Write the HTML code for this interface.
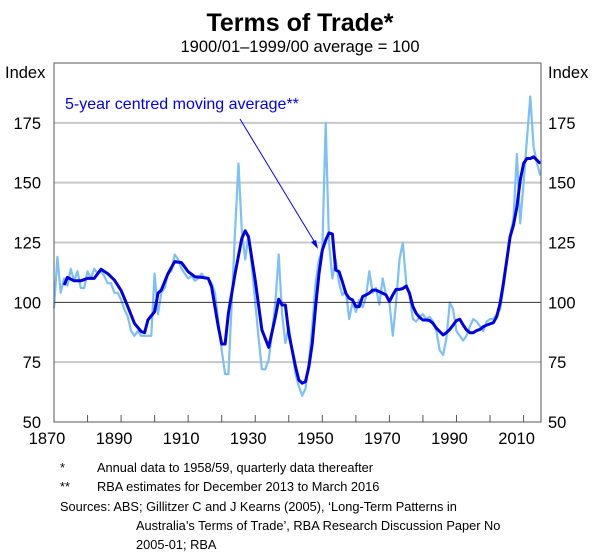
<!DOCTYPE html>
<html><head><meta charset="utf-8"><style>
body{margin:0;background:#fff;font-family:"Liberation Sans",Arial,sans-serif;}
#wrap{position:relative;width:600px;height:558px;overflow:hidden;}
</style></head><body>
<div id="wrap">
<svg id="chart" width="600" height="558" xmlns="http://www.w3.org/2000/svg" font-family="Liberation Sans, Arial, sans-serif">
<text x="300" y="31" text-anchor="middle" font-size="25" font-weight="bold">Terms of Trade*</text>
<text x="300" y="52" text-anchor="middle" font-size="16.5">1900/01–1999/00 average = 100</text>
<text x="5" y="78" font-size="16.5">Index</text>
<text x="548" y="78" font-size="16.5">Index</text>
<g id="grid"></g>
<g id="series"></g>
<rect x="54" y="63" width="487" height="359" fill="none" stroke="#555" stroke-width="1"/>
<g id="axes"></g>
<text x="65" y="109" font-size="16" fill="#0000ee">5-year centred moving average**</text>
<line x1="240" y1="119" x2="317" y2="246" stroke="#0000ee" stroke-width="1"/>
<polygon points="318,249 311,242 316,240" fill="#0000ee"/>
<g font-size="12.8">
<text x="60" y="472">*</text>
<text x="97" y="472">Annual data to 1958/59, quarterly data thereafter</text>
<text x="60" y="491">**</text>
<text x="97" y="491">RBA estimates for December 2013 to March 2016</text>
<text x="60" y="511">Sources: ABS; Gillitzer C and J Kearns (2005), ‘Long-Term Patterns in</text>
<text x="136" y="530">Australia’s Terms of Trade’, RBA Research Discussion Paper No</text>
<text x="136" y="549">2005-01; RBA</text>
</g>
</svg>
</div>
<script>
const xTicks = [1870,1890,1910,1930,1950,1970,1990,2010];
const yTicks = [50,75,100,125,150,175];
const rawYears = [1870,1871,1872,1873,1874,1875,1876,1877,1878,1879,1880,1881,1882,1883,1884,1885,1886,1887,1888,1889,1890,1891,1892,1893,1894,1895,1896,1897,1898,1899,1900,1901,1902,1903,1904,1905,1906,1907,1908,1909,1910,1911,1912,1913,1914,1915,1916,1917,1918,1919,1920,1921,1922,1923,1924,1925,1926,1927,1928,1929,1930,1931,1932,1933,1934,1935,1936,1937,1938,1939,1940,1941,1942,1943,1944,1945,1946,1947,1948,1949,1950,1951,1952,1953,1954,1955,1956,1957,1958,1959,1960,1961,1962,1963,1964,1965,1966,1967,1968,1969,1970,1971,1972,1973,1974,1975,1976,1977,1978,1979,1980,1981,1982,1983,1984,1985,1986,1987,1988,1989,1990,1991,1992,1993,1994,1995,1996,1997,1998,1999,2000,2001,2002,2003,2004,2005,2006,2007,2008,2009,2010,2011,2012,2013,2014,2015];
const rawValues = [97.5,119,104,110,107,114,109,113,106,106,113,110,114,112,113,111,108,108,104,104,101,97,94,88,86,88,86,86,86,86,112,95,104,106,112,113,120,118,114,112,110,111,109,110,112,110,110,108,104,92,80,70,70,100,130,158,130,118,128,115,100,85,72,72,76,87,100,120,95,83,90,80,70,65,61,64,75,90,108,118,122,175,125,110,118,108,103,105,93,100,96,101,98,102,113,104,106,99,110,103,100,86,100,118,125,108,103,93,92,94,95,93,94,92,88,80,78,85,100,97,88,86,84,86,90,93,92,90,88,92,93,93,95,97,106,118,128,135,162,133,150,168,186,165,158,153];
const maYears = [1873,1874,1876,1878,1880,1882,1884,1886,1888,1890,1892,1894,1896,1897,1898,1900,1901,1902,1904,1906,1908,1910,1912,1914,1916,1917,1918,1919,1920,1921,1922,1924,1926,1927,1928,1930,1932,1934,1936,1937,1938,1939,1940,1942,1943,1944,1945,1946,1947,1948,1949,1950,1951,1952,1953,1954,1955,1956,1957,1958,1959,1960,1961,1962,1963,1964,1965,1966,1967,1968,1969,1970,1971,1972,1973,1974,1975,1976,1977,1978,1979,1980,1981,1982,1983,1984,1985,1986,1987,1988,1989,1990,1991,1992,1993,1994,1995,1996,1997,1998,1999,2000,2001,2002,2003,2004,2005,2006,2007,2008,2009,2010,2011,2012,2013,2014,2015];
const maValues = [107.2,110.4,109,109,110,110,113.8,112,109.3,105,98.2,91.2,87.8,87.3,92.6,96.1,103.8,105.1,112,117,116.6,112.8,110.7,110.4,110,106.5,98,89.8,82.6,82.6,95.4,112,126.7,129.9,127.4,109.3,88.5,81.2,94,101.3,98.9,98.9,87,73.2,67.6,66.2,66.9,73.2,82.9,98.2,112,121.8,126,129,128.5,113.5,112.8,108.6,103.8,101.7,101,98.2,98.2,102.4,103.1,103.8,105.1,105.1,104.5,103.8,103.1,100.3,103.1,105.4,105.4,105.8,106.8,103.8,98.2,95.4,93.7,92.6,92.6,92.4,91.2,89.2,87.8,86.4,87.3,88.7,90.5,92.4,92.9,90.5,88.5,87.3,87.3,88.2,88.7,89.8,90.5,91,91.5,94,99.6,107.9,117.7,127.4,132.3,139.9,151,158,160.1,160.1,160.8,159.4,158];

const NS='http://www.w3.org/2000/svg';
const X0=54,X1=541,Y0=422,Y1=63,XMIN=1870,XMAX=2015.2,YMIN=50,YMAX=200;
function xs(v){return X0+(v-XMIN)/(XMAX-XMIN)*(X1-X0);}
function ys(v){return Y0-(v-YMIN)/(YMAX-YMIN)*(Y0-Y1);}
function mk(tag,attrs,parent){const e=document.createElementNS(NS,tag);for(const k in attrs)e.setAttribute(k,attrs[k]);parent.appendChild(e);return e;}
const grid=document.getElementById('grid'),axes=document.getElementById('axes'),ser=document.getElementById('series');
yTicks.forEach(v=>{
  if(v!==50 && v!==100){
    const g=mk('line',{x1:X0,x2:X1,y1:ys(v),y2:ys(v),stroke:'#c8c8c8','stroke-width':2},grid);
    
    
  }
  const l=mk('text',{x:41,y:ys(v)+6,'text-anchor':'end','font-size':16.5},axes);l.textContent=v;
  
  
  const r=mk('text',{x:548,y:ys(v)+6,'font-size':16.5},axes);r.textContent=v;
  
  
});
xTicks.forEach(v=>{
  const t=mk('text',{x:xs(v)-7,y:444,'text-anchor':'middle','font-size':16.5},axes);t.textContent=v;
  
  
});
for(let yr=1880;yr<=2010;yr+=10){
  const tk=mk('line',{x1:xs(yr),x2:xs(yr),y1:Y0,y2:Y0-7,stroke:'#555','stroke-width':1},axes);
  
  
}
function pts(xsA,vs){return xsA.map((y,i)=>xs(y).toFixed(1)+','+ys(vs[i]).toFixed(1)).join(' ');}
const raw=mk('polyline',{points:pts(rawYears,rawValues),fill:'none',stroke:'#7cc0f5','stroke-width':2.2,'stroke-linejoin':'round'},ser);


const hl=mk('line',{x1:X0,x2:X1,y1:ys(100),y2:ys(100),stroke:'#333','stroke-width':1},ser);


const ma=mk('polyline',{points:pts(maYears,maValues),fill:'none',stroke:'#0000e0','stroke-width':3,'stroke-linejoin':'round'},ser);


</script>
</body></html>
